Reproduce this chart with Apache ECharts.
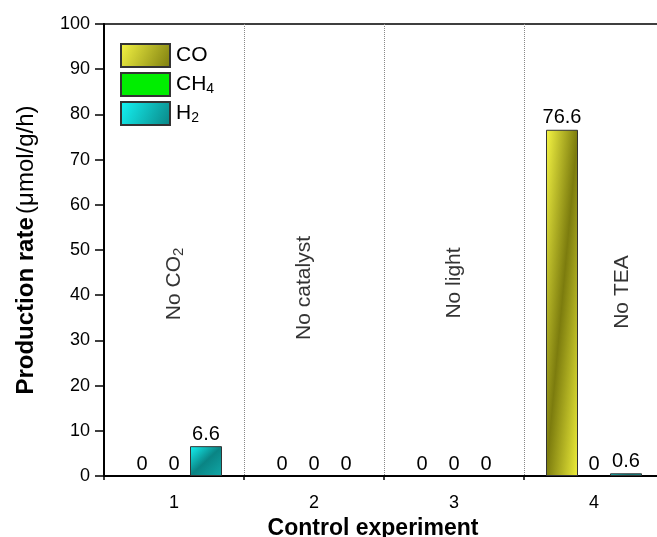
<!DOCTYPE html>
<html><head><meta charset="utf-8">
<script src="https://cdn.jsdelivr.net/npm/echarts@6/dist/echarts.min.js"></script>
<style>html,body{margin:0;padding:0;background:#fff}#c{width:657px;height:537px}</style>
</head><body><div id="c"></div>
<script>
var categories = ['1', '2', '3', '4'];
var seriesNames = ['CO', 'CH4', 'H2'];
var coValues = [0, 0, 0, 76.6];
var ch4Values = [0, 0, 0, 0];
var h2Values = [6.6, 0, 0, 0.6];
var yTicks = [0, 10, 20, 30, 40, 50, 60, 70, 80, 90, 100];
var annoLabels = ['No CO2', 'No catalyst', 'No light', 'No TEA'];
var annoX = [1, 1.93, 3, 4.2];
var annoY = [42.5, 41.6, 42.7, 40.7];

var palette = {
  CO: ['#f6f644', '#7c7c0e', '#eeee3a'],
  CH4: ['#00ee00', '#00ee00', '#00ee00'],
  H2: ['#14f6f6', '#0a8484', '#10a8a8']
};
var BAR_W = 32;
var FONT = 'Arial, Liberation Sans';

function richName(n) {
  if (n === 'CH4') return '{a|CH}{s|4}';
  if (n === 'H2') return '{a|H}{s|2}';
  if (n === 'No CO2') return '{a|No CO}{s|2}';
  return '{a|' + n + '}';
}
var legendRich = {
  a: {fontSize: 21, fontFamily: FONT, color: '#000'},
  s: {fontSize: 14, fontFamily: FONT, color: '#000', padding: [10, 0, 0, 0]}
};
var annoRich = {
  a: {fontSize: 21, fontFamily: FONT, color: '#000'},
  s: {fontSize: 15, fontFamily: FONT, color: '#000', padding: [10, 0, 0, 0]}
};

function diagGrad(w, h, cols) {
  h = Math.max(h, 1);
  var ax = 1 / (2 * w), ay = 1 / (2 * h);
  var n2 = ax * ax + ay * ay;
  var dx = ax / n2, dy = ay / n2;
  return new echarts.graphic.LinearGradient(0, 0, dx / w, dy / h, [
    {offset: 0, color: cols[0]}, {offset: 0.5, color: cols[1]}, {offset: 1, color: cols[2]}
  ]);
}
function legendGrad(cols) {
  return new echarts.graphic.LinearGradient(0, 0, 1, 1, [
    {offset: 0, color: cols[0]}, {offset: 1, color: cols[1]}
  ]);
}

var chart = echarts.init(document.getElementById('c'), null, {renderer: 'canvas'});
var valuesByName = {CO: coValues, CH4: ch4Values, H2: h2Values};

function barSeries(name, pxPerUnit) {
  var vals = valuesByName[name];
  return {
    name: name, type: 'bar', xAxisIndex: 0, yAxisIndex: 0,
    barWidth: BAR_W, barGap: '0%',
    itemStyle: {color: legendGrad(palette[name]), borderColor: '#333', borderWidth: 1},
    label: {show: true, position: 'top', distance: 2, fontSize: 20, fontFamily: FONT, color: '#000',
      formatter: function (p) { return String(p.value); }},
    data: vals.map(function (v) {
      return {value: v, itemStyle: {color: diagGrad(BAR_W, v * pxPerUnit, palette[name]), borderWidth: v > 0 ? 1 : 0}};
    })
  };
}

function build(pxPerUnit) {
  return {
    animation: false,
    backgroundColor: '#fff',
    grid: {left: 104, top: 24, width: 560, height: 452, outerBoundsMode: 'none', containLabel: false,
      show: true, borderColor: '#000', borderWidth: 1.5, backgroundColor: 'transparent'},
    legend: {
      orient: 'vertical', left: 120, top: 43, padding: 0, itemWidth: 49, itemHeight: 23, itemGap: 4,
      icon: 'rect', data: seriesNames,
      formatter: richName,
      textStyle: {rich: legendRich, padding: [0, 0, 0, 1]}
    },
    xAxis: [{
      type: 'category', data: categories, position: 'bottom',
      name: 'Control experiment', nameLocation: 'middle', nameGap: 40,
      nameTextStyle: {fontSize: 23, fontWeight: 'bold', fontFamily: FONT, color: '#000', padding: [0, 22, 0, 0]},
      axisLine: {lineStyle: {color: '#000', width: 2}},
      axisTick: {alignWithLabel: true, length: 10, lineStyle: {color: '#000', width: 1.5}},
      axisLabel: {fontSize: 18, fontFamily: FONT, color: '#000', margin: 18},
      splitLine: {show: true, lineStyle: {color: '#888', type: 'dotted', width: 1}}
    }, {
      type: 'category', data: categories, position: 'bottom',
      axisLine: {show: false}, axisLabel: {show: false},
      axisTick: {show: true, alignWithLabel: false, length: 4, lineStyle: {color: '#000', width: 1.5}},
      splitLine: {show: false}
    }, {
      type: 'value', min: 0.5, max: 4.5, show: false
    }],
    yAxis: [{
      type: 'value', min: yTicks[0], max: yTicks[yTicks.length - 1], interval: yTicks[1] - yTicks[0],
      name: '{b|Production rate} {n|(μmol/g/h)}', nameLocation: 'middle', nameGap: 66,
      nameTextStyle: {rich: {
        b: {fontSize: 24, fontWeight: 'bold', fontFamily: FONT, color: '#000'},
        n: {fontSize: 24, fontFamily: FONT, color: '#000'}
      }},
      axisLine: {show: true, lineStyle: {color: '#000', width: 2}},
      axisTick: {show: true, length: 9, lineStyle: {color: '#000', width: 1.5}},
      axisLabel: {fontSize: 18, fontFamily: FONT, color: '#000', margin: 14},
      splitLine: {show: false}
    }],
    series: [
      barSeries('CO', pxPerUnit),
      barSeries('CH4', pxPerUnit),
      barSeries('H2', pxPerUnit),
      {
        type: 'scatter', xAxisIndex: 2, yAxisIndex: 0, symbolSize: 0, silent: true,
        data: annoLabels.map(function (t, i) { return {value: [annoX[i], annoY[i]], name: t}; }),
        label: {show: true, position: 'inside', rotate: 90, formatter: function (p) { return richName(p.name); }, rich: annoRich}
      }
    ]
  };
}

chart.setOption(build(4.52));
var p0 = chart.convertToPixel({yAxisIndex: 0}, 0);
var p1 = chart.convertToPixel({yAxisIndex: 0}, 100);
var ppu = Math.abs(p0 - p1) / 100;
chart.setOption(build(ppu), true);
</script></body></html>
